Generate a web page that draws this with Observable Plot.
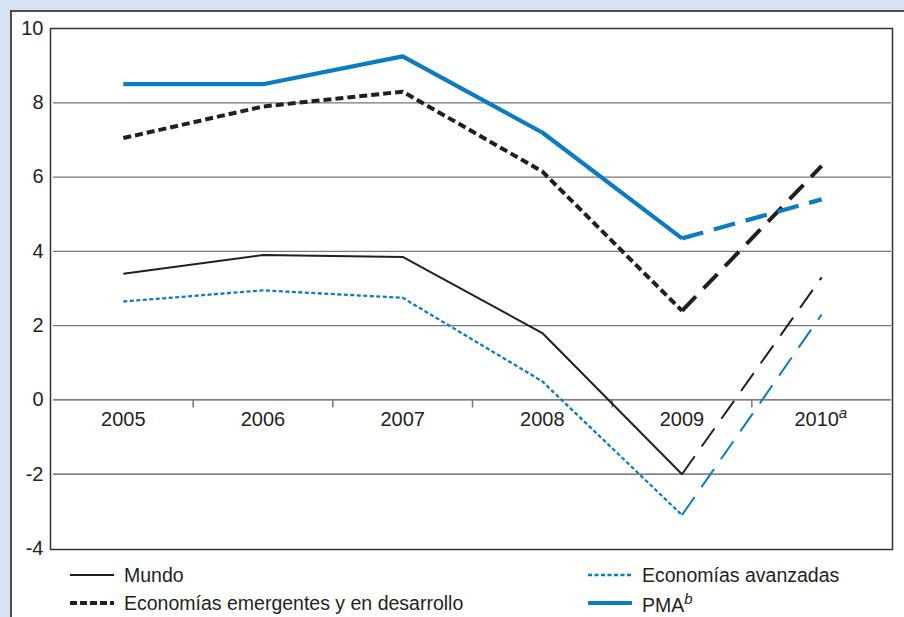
<!DOCTYPE html>
<html>
<head>
<meta charset="utf-8">
<script src="https://cdn.jsdelivr.net/npm/d3@7"></script>
<script src="https://cdn.jsdelivr.net/npm/@observablehq/plot@0.6"></script>
<style>
  html, body { margin: 0; padding: 0; }
  body { width: 904px; height: 617px; overflow: hidden; position: relative;
         background: #d7e3f4; font-family: "Liberation Sans", Arial, sans-serif; color: #231f20; }
  #panel { position: absolute; left: 10px; top: 10px; width: 900px; height: 615px;
           background: #fff; border-left: 2px solid #4d4d4d; border-top: 2px solid #4d4d4d; }
  #chart { position: absolute; left: 0; top: 0; }
  #legend { position: absolute; left: 0; top: 560px; width: 904px; height: 57px; }
  .item { position: absolute; height: 24px; display: flex; align-items: center; font-size: 19.5px; white-space: nowrap; }
  .item svg { margin-right: 10px; }
</style>
</head>
<body>
<div id="panel"></div>
<div id="chart"></div>
<div id="legend"></div>
<script>
// ---- data ----
const years = [2005, 2006, 2007, 2008, 2009, 2010];
const xLabels = ["2005", "2006", "2007", "2008", "2009", "2010"];
const yTicks = [10, 8, 6, 4, 2, 0, -2, -4];
const gridVals = [8, 6, 4, 2, 0, -2];
const separators = [2005.5, 2006.5, 2007.5, 2008.5, 2009.5];
const mundo = [3.4, 3.9, 3.85, 1.8, -2.0, 3.3];
const emergentes = [7.05, 7.9, 8.3, 6.15, 2.4, 6.3];
const avanzadas = [2.65, 2.95, 2.75, 0.5, -3.1, 2.3];
const pma = [8.5, 8.5, 9.25, 7.2, 4.35, 5.4];
const seriesNames = ["Mundo", "Economías emergentes y en desarrollo", "Economías avanzadas", "PMA"];

// ---- helpers ----
const BLACK = "#231f20";
const BLUE = "#0a7cc2";
const rows = (vals, from, to) => years.slice(from, to).map((yr, i) => ({x: yr, y: vals[from + i]}));
const hist = vals => rows(vals, 0, 5);
const proj = vals => rows(vals, 4, 6);
const lineOpts = (stroke, w, dash) => ({x: "x", y: "y", stroke, strokeWidth: w,
  strokeDasharray: dash, strokeLinejoin: "miter", strokeLinecap: "butt"});
const labelRows = years.map((yr, i) => ({x: yr, label: xLabels[i]}));
const lastYear = years[years.length - 1];

const chart = Plot.plot({
  width: 904,
  height: 560,
  marginLeft: 50,
  marginRight: 12,
  marginTop: 28,
  marginBottom: 11,
  x: {type: "linear", domain: [2004.5, 2010.5], range: [53, 891], axis: null},
  y: {domain: [-4, 10], range: [548, 28], axis: null},
  style: {fontFamily: "'Liberation Sans', Arial, sans-serif", fontSize: "20px", color: BLACK, background: "transparent", overflow: "visible"},
  marks: [
    Plot.ruleY(gridVals, {y: d => d, x1: 2004.5, x2: 2010.5, stroke: d => d <= 0 ? "#555" : "#777", strokeWidth: 1.3}),
    Plot.ruleX(separators, {x: d => d, y1: 0, y2: -0.22, stroke: "#777", strokeWidth: 1.5}),
    // Economías avanzadas
    Plot.line(hist(avanzadas), lineOpts(BLUE, 2.3, "4,2.5")),
    Plot.line(proj(avanzadas), lineOpts(BLUE, 2, "22,12")),
    // Mundo
    Plot.line(hist(mundo), lineOpts(BLACK, 2, null)),
    Plot.line(proj(mundo), lineOpts(BLACK, 2, "22,12")),
    // Emergentes
    Plot.line(hist(emergentes), lineOpts(BLACK, 4, "8,4")),
    Plot.line(proj(emergentes), lineOpts(BLACK, 4, "20,11")),
    // PMA
    Plot.line(hist(pma), lineOpts(BLUE, 4.2, null)),
    Plot.line(proj(pma), lineOpts(BLUE, 4.2, "22,11")),
    Plot.frame({stroke: "#333", strokeWidth: 1.5}),
    // y labels
    Plot.text(yTicks, {x: 2004.5, y: d => d, text: d => String(d), textAnchor: "end", dx: -10, fontSize: 20, fill: BLACK}),
    // x labels
    Plot.text(labelRows.filter(d => d.x !== lastYear), {x: "x", y: () => 0, text: "label", dy: 20, fontSize: 20, fill: BLACK}),
    Plot.text(labelRows.filter(d => d.x === lastYear), {x: "x", y: () => 0, text: "label", dy: 20, dx: -5, fontSize: 20, fill: BLACK}),
    Plot.text(labelRows.filter(d => d.x === lastYear), {x: "x", y: () => 0, text: () => "a", dx: 17, dy: 13, textAnchor: "start", fontSize: 15, fontStyle: "italic", fill: BLACK})
  ]
});
document.getElementById("chart").appendChild(chart);

// ---- legend ----
const legend = document.getElementById("legend");
const legendDefs = [
  {name: seriesNames[0], color: BLACK, w: 2, dash: null, left: 70, top: 3},
  {name: seriesNames[1], color: BLACK, w: 4, dash: "7,3", left: 70, top: 31},
  {name: seriesNames[2], color: BLUE, w: 2.3, dash: "4,2.5", left: 588, top: 3},
  {name: seriesNames[3], color: BLUE, w: 4.2, dash: null, left: 588, top: 31, sup: "b"}
];
for (const d of legendDefs) {
  const el = document.createElement("div");
  el.className = "item";
  el.style.left = d.left + "px";
  el.style.top = d.top + "px";
  const sw = d3.create("svg").attr("width", 44).attr("height", 10);
  sw.append("line").attr("x1", 0).attr("x2", 44).attr("y1", 5).attr("y2", 5)
    .attr("stroke", d.color).attr("stroke-width", d.w).attr("stroke-dasharray", d.dash);
  el.appendChild(sw.node());
  const t = document.createElement("span");
  t.textContent = d.name;
  if (d.sup) {
    const s = document.createElement("sup");
    s.style.fontStyle = "italic";
    s.style.fontSize = "15px";
    s.textContent = d.sup;
    t.appendChild(s);
  }
  el.appendChild(t);
  legend.appendChild(el);
}
</script>
</body>
</html>
